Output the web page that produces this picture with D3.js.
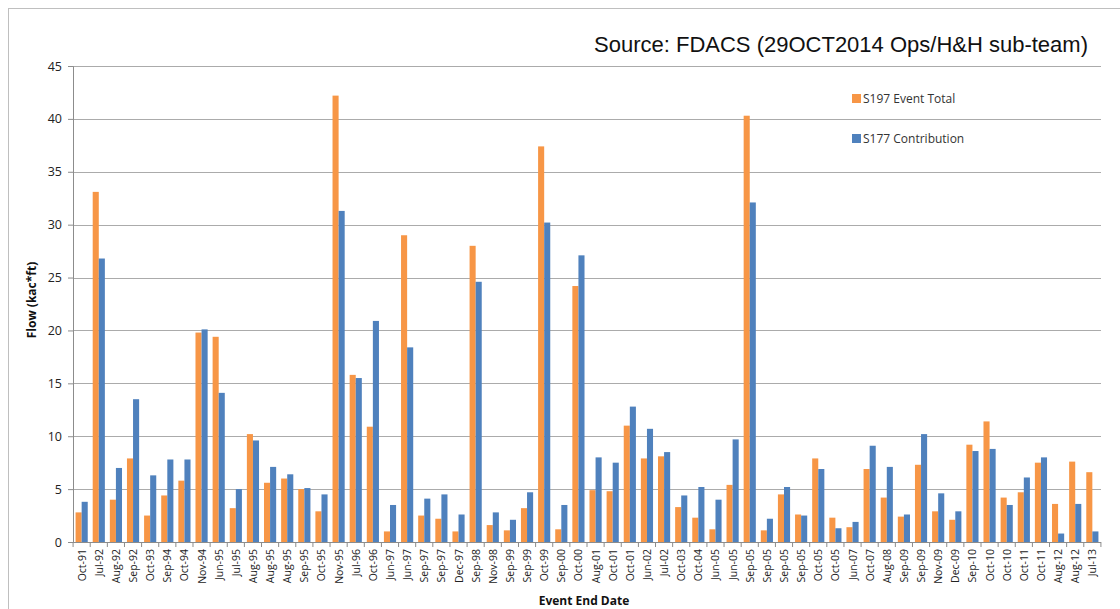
<!DOCTYPE html>
<html>
<head>
<meta charset="utf-8">
<script src="https://cdn.jsdelivr.net/npm/d3@7"></script>
<style>
  body { margin: 0; background: #fff; }
  svg { display: block; font-family: "Liberation Sans", Arial, sans-serif; }
</style>
</head>
<body>
<div id="viz"></div>
<script>
// Event end dates (one bar pair per event)
var events = [
    'Oct-91', 'Jul-92', 'Aug-92', 'Sep-92', 'Oct-93', 'Sep-94', 'Oct-94', 'Nov-94', 'Jun-95', 'Jul-95',
    'Aug-95', 'Aug-95', 'Aug-95', 'Sep-95', 'Oct-95', 'Nov-95', 'Jul-96', 'Oct-96', 'Jun-97', 'Jun-97',
    'Sep-97', 'Sep-97', 'Dec-97', 'Sep-98', 'Nov-98', 'Sep-99', 'Sep-99', 'Oct-99', 'Sep-00', 'Oct-00',
    'Aug-01', 'Oct-01', 'Oct-01', 'Jun-02', 'Jul-02', 'Oct-03', 'Oct-04', 'Jun-05', 'Jun-05', 'Sep-05',
    'Sep-05', 'Sep-05', 'Sep-05', 'Oct-05', 'Oct-05', 'Jun-07', 'Oct-07', 'Aug-08', 'Sep-09', 'Sep-09',
    'Nov-09', 'Dec-09', 'Sep-10', 'Oct-10', 'Oct-10', 'Oct-11', 'Oct-11', 'Aug-12', 'Aug-12', 'Jul-13'
];

var s197Total = [
    2.8, 33.1, 4.0, 7.9, 2.5, 4.4, 5.8, 19.8, 19.4, 3.2,
    10.2, 5.6, 6.0, 5.0, 2.9, 42.2, 15.8, 10.9, 1.0, 29.0,
    2.5, 2.2, 1.0, 28.0, 1.6, 1.1, 3.2, 37.4, 1.2, 24.2,
    4.9, 4.8, 11.0, 7.9, 8.1, 3.3, 2.3, 1.2, 5.4, 40.3,
    1.1, 4.5, 2.6, 7.9, 2.3, 1.4, 6.9, 4.2, 2.4, 7.3,
    2.9, 2.1, 9.2, 11.4, 4.2, 4.7, 7.5, 3.6, 7.6, 6.6
];

var s177Contribution = [
    3.8, 26.8, 7.0, 13.5, 6.3, 7.8, 7.8, 20.1, 14.1, 5.0,
    9.6, 7.1, 6.4, 5.1, 4.5, 31.3, 15.5, 20.9, 3.5, 18.4,
    4.1, 4.5, 2.6, 24.6, 2.8, 2.1, 4.7, 30.2, 3.5, 27.1,
    8.0, 7.5, 12.8, 10.7, 8.5, 4.4, 5.2, 4.0, 9.7, 32.1,
    2.2, 5.2, 2.5, 6.9, 1.3, 1.9, 9.1, 7.1, 2.6, 10.2,
    4.6, 2.9, 8.6, 8.8, 3.5, 6.1, 8.0, 0.8, 3.6, 1.0
];

var seriesNames = ['S197 Event Total', 'S177 Contribution'];
var seriesColors = ['#f79646', '#4f81bd'];
var yTicks = [0, 5, 10, 15, 20, 25, 30, 35, 40, 45];

var width = 1120;
var height = 609;
var margin = { top: 66, right: 19, bottom: 67, left: 73 };
var plotW = width - margin.left - margin.right;
var plotH = height - margin.top - margin.bottom;

var svg = d3.select('#viz').append('svg')
    .attr('width', width)
    .attr('height', height);

// outer frame
svg.append('rect')
    .attr('x', 8.5).attr('y', 8.5)
    .attr('width', width - 8).attr('height', height - 8)
    .attr('fill', 'none')
    .attr('stroke', '#bfbfbf');

svg.append('text')
    .attr('x', 1088).attr('y', 52)
    .attr('text-anchor', 'end')
    .attr('font-size', 22)
    .attr('fill', '#111')
    .text('Source: FDACS (29OCT2014 Ops/H&H sub-team)');

var g = svg.append('g')
    .attr('transform', 'translate(' + margin.left + ',' + margin.top + ')');

var rows = events.map(function (d, i) {
    return { i: i, label: d, values: [s197Total[i], s177Contribution[i]] };
});

var x0 = d3.scaleBand()
    .domain(d3.range(events.length))
    .range([0, plotW])
    .paddingInner(0.29)
    .paddingOuter(0.15);

var x1 = d3.scaleBand()
    .domain([0, 1])
    .range([0, x0.bandwidth()]);

var y = d3.scaleLinear()
    .domain([0, 45])
    .range([plotH, 0]);

// gridlines
g.selectAll('.grid')
    .data(yTicks.filter(function (d) { return d > 0; }))
    .enter().append('line')
    .attr('x1', 0).attr('x2', plotW)
    .attr('y1', function (d) { return Math.round(y(d)) + 0.5; })
    .attr('y2', function (d) { return Math.round(y(d)) + 0.5; })
    .attr('stroke', '#ababab')
    .attr('stroke-width', 1.2);

// bars
var group = g.selectAll('.evt')
    .data(rows)
    .enter().append('g')
    .attr('transform', function (d) { return 'translate(' + x0(d.i) + ',0)'; });

group.selectAll('rect')
    .data(function (d) { return d.values; })
    .enter().append('rect')
    .attr('x', function (d, k) { return x1(k); })
    .attr('width', x1.bandwidth())
    .attr('y', function (d) { return y(d); })
    .attr('height', function (d) { return plotH - y(d); })
    .attr('fill', function (d, k) { return seriesColors[k]; });

// y axis
var yAxis = g.append('g')
    .call(d3.axisLeft(y).tickValues(yTicks).tickSize(5).tickPadding(6));
yAxis.select('.domain').attr('stroke', '#8c8c8c');
yAxis.selectAll('.tick line').attr('stroke', '#8c8c8c');
yAxis.selectAll('.tick text')
    .attr('font-size', 12.5)
    .attr('font-family', '"Open Sans", "Liberation Sans", sans-serif')
    .attr('fill', '#222');

// x axis
var xAxisG = g.append('g')
    .attr('transform', 'translate(0,' + plotH + ')');
xAxisG.append('line')
    .attr('x1', 0).attr('x2', plotW)
    .attr('y1', 0.5).attr('y2', 0.5)
    .attr('stroke', '#8c8c8c');
var step = x0.step();
xAxisG.selectAll('.xt')
    .data(d3.range(events.length + 1))
    .enter().append('line')
    .attr('x1', function (d) { return x0(0) - x0.paddingInner() * step / 2 + d * step; })
    .attr('x2', function (d) { return x0(0) - x0.paddingInner() * step / 2 + d * step; })
    .attr('y1', 0).attr('y2', 5)
    .attr('stroke', '#8c8c8c');
xAxisG.selectAll('.xl')
    .data(rows)
    .enter().append('text')
    .attr('transform', function (d) {
        return 'translate(' + (x0(d.i) + x0.bandwidth() / 2 + 4) + ',7) rotate(-90)';
    })
    .attr('text-anchor', 'end')
    .attr('font-size', 10.5)
    .attr('font-family', '"Open Sans", "Liberation Sans", sans-serif')
    .attr('fill', '#222')
    .text(function (d) { return d.label; });

// axis titles
svg.append('text')
    .attr('transform', 'translate(36,300) rotate(-90)')
    .attr('text-anchor', 'middle')
    .attr('font-size', 12)
    .attr('font-weight', 'bold')
    .attr('font-family', '"Open Sans", "Liberation Sans", sans-serif')
    .attr('fill', '#111')
    .text('Flow (kac*ft)');

svg.append('text')
    .attr('x', 584).attr('y', 605)
    .attr('text-anchor', 'middle')
    .attr('font-size', 12)
    .attr('font-weight', 'bold')
    .attr('font-family', '"Open Sans", "Liberation Sans", sans-serif')
    .attr('fill', '#111')
    .text('Event End Date');

// legend
var legend = svg.selectAll('.leg')
    .data(seriesNames)
    .enter().append('g')
    .attr('transform', function (d, k) { return 'translate(852,' + (94 + k * 40) + ')'; });
legend.append('rect')
    .attr('width', 9).attr('height', 9)
    .attr('fill', function (d, k) { return seriesColors[k]; });
legend.append('text')
    .attr('x', 11).attr('y', 9)
    .attr('font-size', 12)
    .attr('font-family', '"Open Sans", "Liberation Sans", sans-serif')
    .attr('fill', '#333')
    .text(function (d) { return d; });
</script>
</body>
</html>
